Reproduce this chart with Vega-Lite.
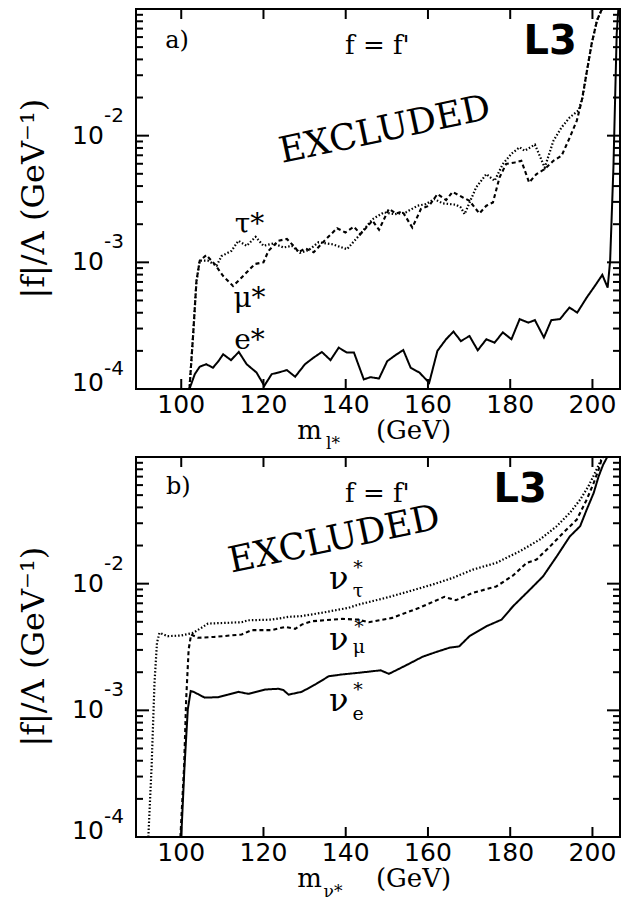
{
 "$schema": "https://vega.github.io/schema/vega-lite/v6.json",
 "padding": {"left": 17, "top": 7, "right": 5, "bottom": 0},
 "background": "white",
 "spacing": 2,
 "config": {
  "view": {"stroke": "black", "strokeWidth": 2},
  "text": {"color": "black"},
  "rule": {"color": "black", "strokeWidth": 2}
 },
 "datasets": {
  "ticks": [
   {"axis":"y","kind":"major","v":0.0001},{"axis":"y","kind":"minor","v":0.0002},{"axis":"y","kind":"minor","v":0.0003},{"axis":"y","kind":"minor","v":0.0004},{"axis":"y","kind":"minor","v":0.0005},{"axis":"y","kind":"minor","v":0.0006},{"axis":"y","kind":"minor","v":0.0007},{"axis":"y","kind":"minor","v":0.0008},{"axis":"y","kind":"minor","v":0.0009},
   {"axis":"y","kind":"major","v":0.001},{"axis":"y","kind":"minor","v":0.002},{"axis":"y","kind":"minor","v":0.003},{"axis":"y","kind":"minor","v":0.004},{"axis":"y","kind":"minor","v":0.005},{"axis":"y","kind":"minor","v":0.006},{"axis":"y","kind":"minor","v":0.007},{"axis":"y","kind":"minor","v":0.008},{"axis":"y","kind":"minor","v":0.009},
   {"axis":"y","kind":"major","v":0.01},{"axis":"y","kind":"minor","v":0.02},{"axis":"y","kind":"minor","v":0.03},{"axis":"y","kind":"minor","v":0.04},{"axis":"y","kind":"minor","v":0.05},{"axis":"y","kind":"minor","v":0.06},{"axis":"y","kind":"minor","v":0.07},{"axis":"y","kind":"minor","v":0.08},{"axis":"y","kind":"minor","v":0.09},
   {"axis":"x","kind":"major","v":100},{"axis":"x","kind":"major","v":120},{"axis":"x","kind":"major","v":140},{"axis":"x","kind":"major","v":160},{"axis":"x","kind":"major","v":180},{"axis":"x","kind":"major","v":200}
  ],
  "frame": [
   {"kind":"ylab","x":81.2,"y":0.0001125,"text":"10"},
   {"kind":"ylab","x":81.2,"y":0.001,"text":"10"},
   {"kind":"ylab","x":81.2,"y":0.01,"text":"10"},
   {"kind":"exp","x":81.2,"y":0.0001,"text":"-4"},
   {"kind":"exp","x":81.2,"y":0.001,"text":"-3"},
   {"kind":"exp","x":81.2,"y":0.01,"text":"-2"},
   {"kind":"xlab","x":100,"y":0.0000747,"text":"100"},
   {"kind":"xlab","x":120,"y":0.0000747,"text":"120"},
   {"kind":"xlab","x":140,"y":0.0000747,"text":"140"},
   {"kind":"xlab","x":160,"y":0.0000747,"text":"160"},
   {"kind":"xlab","x":180,"y":0.0000747,"text":"180"},
   {"kind":"xlab","x":200,"y":0.0000747,"text":"200"},
   {"kind":"ytitle","x":64.2,"y":0.00318,"text":"|f|/Λ  (GeV⁻¹)"}
  ],
  "curves": [
   {"panel":"a","lepton":"e","m":102.0,"f":0.0001},
   {"panel":"a","lepton":"e","m":103.3,"f":0.000131},
   {"panel":"a","lepton":"e","m":104.5,"f":0.00015},
   {"panel":"a","lepton":"e","m":106.1,"f":0.000157},
   {"panel":"a","lepton":"e","m":107.7,"f":0.000147},
   {"panel":"a","lepton":"e","m":109.0,"f":0.000165},
   {"panel":"a","lepton":"e","m":110.2,"f":0.000188},
   {"panel":"a","lepton":"e","m":112.1,"f":0.000169},
   {"panel":"a","lepton":"e","m":114.0,"f":0.000196},
   {"panel":"a","lepton":"e","m":115.9,"f":0.000157},
   {"panel":"a","lepton":"e","m":118.3,"f":0.000135},
   {"panel":"a","lepton":"e","m":120.2,"f":0.000106},
   {"panel":"a","lepton":"e","m":122.0,"f":0.000131},
   {"panel":"a","lepton":"e","m":124.0,"f":0.000136},
   {"panel":"a","lepton":"e","m":125.7,"f":0.000141},
   {"panel":"a","lepton":"e","m":127.7,"f":0.000125},
   {"panel":"a","lepton":"e","m":130.1,"f":0.000157},
   {"panel":"a","lepton":"e","m":132.2,"f":0.000177},
   {"panel":"a","lepton":"e","m":134.2,"f":0.000196},
   {"panel":"a","lepton":"e","m":136.3,"f":0.000169},
   {"panel":"a","lepton":"e","m":138.3,"f":0.000212},
   {"panel":"a","lepton":"e","m":140.3,"f":0.000194},
   {"panel":"a","lepton":"e","m":142.0,"f":0.000194},
   {"panel":"a","lepton":"e","m":144.4,"f":0.000119},
   {"panel":"a","lepton":"e","m":146.0,"f":0.000124},
   {"panel":"a","lepton":"e","m":148.1,"f":0.000121},
   {"panel":"a","lepton":"e","m":150.1,"f":0.000166},
   {"panel":"a","lepton":"e","m":152.2,"f":0.000186},
   {"panel":"a","lepton":"e","m":154.0,"f":0.000203},
   {"panel":"a","lepton":"e","m":155.8,"f":0.000147},
   {"panel":"a","lepton":"e","m":157.9,"f":0.000135},
   {"panel":"a","lepton":"e","m":160.3,"f":0.000112},
   {"panel":"a","lepton":"e","m":162.3,"f":0.0002},
   {"panel":"a","lepton":"e","m":164.4,"f":0.000247},
   {"panel":"a","lepton":"e","m":166.2,"f":0.000284},
   {"panel":"a","lepton":"e","m":168.0,"f":0.000239},
   {"panel":"a","lepton":"e","m":170.1,"f":0.000262},
   {"panel":"a","lepton":"e","m":172.1,"f":0.000202},
   {"panel":"a","lepton":"e","m":174.2,"f":0.000247},
   {"panel":"a","lepton":"e","m":176.2,"f":0.000232},
   {"panel":"a","lepton":"e","m":178.2,"f":0.00028},
   {"panel":"a","lepton":"e","m":180.3,"f":0.000247},
   {"panel":"a","lepton":"e","m":182.3,"f":0.000356},
   {"panel":"a","lepton":"e","m":184.4,"f":0.000334},
   {"panel":"a","lepton":"e","m":186.0,"f":0.00035},
   {"panel":"a","lepton":"e","m":188.2,"f":0.000255},
   {"panel":"a","lepton":"e","m":190.0,"f":0.00035},
   {"panel":"a","lepton":"e","m":192.1,"f":0.000356},
   {"panel":"a","lepton":"e","m":194.4,"f":0.00044},
   {"panel":"a","lepton":"e","m":196.3,"f":0.000401},
   {"panel":"a","lepton":"e","m":198.6,"f":0.000527},
   {"panel":"a","lepton":"e","m":200.6,"f":0.000652},
   {"panel":"a","lepton":"e","m":202.4,"f":0.000796},
   {"panel":"a","lepton":"e","m":203.7,"f":0.000632},
   {"panel":"a","lepton":"e","m":204.3,"f":0.00103},
   {"panel":"a","lepton":"e","m":205.1,"f":0.0056},
   {"panel":"a","lepton":"e","m":205.9,"f":0.0637},
   {"panel":"a","lepton":"e","m":206.3,"f":0.1},

   {"panel":"a","lepton":"μ","m":102.0,"f":0.0001},
   {"panel":"a","lepton":"μ","m":102.9,"f":0.00027},
   {"panel":"a","lepton":"μ","m":103.7,"f":0.00071},
   {"panel":"a","lepton":"μ","m":104.5,"f":0.00103},
   {"panel":"a","lepton":"μ","m":106.1,"f":0.00114},
   {"panel":"a","lepton":"μ","m":108.1,"f":0.00097},
   {"panel":"a","lepton":"μ","m":110.2,"f":0.00078},
   {"panel":"a","lepton":"μ","m":112.6,"f":0.00065},
   {"panel":"a","lepton":"μ","m":114.7,"f":0.00076},
   {"panel":"a","lepton":"μ","m":117.9,"f":0.00097},
   {"panel":"a","lepton":"μ","m":120.0,"f":0.001},
   {"panel":"a","lepton":"μ","m":121.2,"f":0.00123},
   {"panel":"a","lepton":"μ","m":123.6,"f":0.00148},
   {"panel":"a","lepton":"μ","m":125.7,"f":0.00153},
   {"panel":"a","lepton":"μ","m":127.7,"f":0.00131},
   {"panel":"a","lepton":"μ","m":128.5,"f":0.0012},
   {"panel":"a","lepton":"μ","m":130.2,"f":0.00129},
   {"panel":"a","lepton":"μ","m":132.2,"f":0.0012},
   {"panel":"a","lepton":"μ","m":135.0,"f":0.0015},
   {"panel":"a","lepton":"μ","m":137.9,"f":0.00186},
   {"panel":"a","lepton":"μ","m":139.9,"f":0.00172},
   {"panel":"a","lepton":"μ","m":142.0,"f":0.00191},
   {"panel":"a","lepton":"μ","m":143.6,"f":0.00167},
   {"panel":"a","lepton":"μ","m":146.5,"f":0.00213},
   {"panel":"a","lepton":"μ","m":148.1,"f":0.00181},
   {"panel":"a","lepton":"μ","m":150.5,"f":0.00264},
   {"panel":"a","lepton":"μ","m":152.2,"f":0.00243},
   {"panel":"a","lepton":"μ","m":153.8,"f":0.00252},
   {"panel":"a","lepton":"μ","m":156.2,"f":0.00188},
   {"panel":"a","lepton":"μ","m":158.3,"f":0.00264},
   {"panel":"a","lepton":"μ","m":160.3,"f":0.0028},
   {"panel":"a","lepton":"μ","m":162.3,"f":0.00346},
   {"panel":"a","lepton":"μ","m":164.4,"f":0.0031},
   {"panel":"a","lepton":"μ","m":166.0,"f":0.0036},
   {"panel":"a","lepton":"μ","m":168.5,"f":0.00325},
   {"panel":"a","lepton":"μ","m":170.1,"f":0.00306},
   {"panel":"a","lepton":"μ","m":172.5,"f":0.00243},
   {"panel":"a","lepton":"μ","m":174.2,"f":0.0028},
   {"panel":"a","lepton":"μ","m":175.8,"f":0.00297},
   {"panel":"a","lepton":"μ","m":177.4,"f":0.00468},
   {"panel":"a","lepton":"μ","m":179.0,"f":0.00597},
   {"panel":"a","lepton":"μ","m":181.1,"f":0.00615},
   {"panel":"a","lepton":"μ","m":182.7,"f":0.00634},
   {"panel":"a","lepton":"μ","m":184.6,"f":0.00427},
   {"panel":"a","lepton":"μ","m":186.4,"f":0.00498},
   {"panel":"a","lepton":"μ","m":188.4,"f":0.00545},
   {"panel":"a","lepton":"μ","m":190.5,"f":0.00634},
   {"panel":"a","lepton":"μ","m":192.5,"f":0.00695},
   {"panel":"a","lepton":"μ","m":194.5,"f":0.0097},
   {"panel":"a","lepton":"μ","m":196.2,"f":0.01315},
   {"panel":"a","lepton":"μ","m":197.4,"f":0.0189},
   {"panel":"a","lepton":"μ","m":198.6,"f":0.0316},
   {"panel":"a","lepton":"μ","m":199.8,"f":0.053},
   {"panel":"a","lepton":"μ","m":201.1,"f":0.081},
   {"panel":"a","lepton":"μ","m":202.3,"f":0.1},

   {"panel":"a","lepton":"τ","m":102.0,"f":0.0001},
   {"panel":"a","lepton":"τ","m":102.9,"f":0.00027},
   {"panel":"a","lepton":"τ","m":103.7,"f":0.00071},
   {"panel":"a","lepton":"τ","m":104.5,"f":0.00103},
   {"panel":"a","lepton":"τ","m":106.5,"f":0.00103},
   {"panel":"a","lepton":"τ","m":108.6,"f":0.00094},
   {"panel":"a","lepton":"τ","m":109.8,"f":0.00112},
   {"panel":"a","lepton":"τ","m":112.2,"f":0.00123},
   {"panel":"a","lepton":"τ","m":113.9,"f":0.00148},
   {"panel":"a","lepton":"τ","m":115.9,"f":0.00135},
   {"panel":"a","lepton":"τ","m":118.1,"f":0.00159},
   {"panel":"a","lepton":"τ","m":120.0,"f":0.00135},
   {"panel":"a","lepton":"τ","m":122.4,"f":0.00141},
   {"panel":"a","lepton":"τ","m":124.9,"f":0.00131},
   {"panel":"a","lepton":"τ","m":126.9,"f":0.00135},
   {"panel":"a","lepton":"τ","m":128.9,"f":0.00119},
   {"panel":"a","lepton":"τ","m":131.0,"f":0.00125},
   {"panel":"a","lepton":"τ","m":133.4,"f":0.00144},
   {"panel":"a","lepton":"τ","m":136.7,"f":0.00139},
   {"panel":"a","lepton":"τ","m":140.3,"f":0.00127},
   {"panel":"a","lepton":"τ","m":143.2,"f":0.00162},
   {"panel":"a","lepton":"τ","m":146.5,"f":0.00219},
   {"panel":"a","lepton":"τ","m":149.3,"f":0.00248},
   {"panel":"a","lepton":"τ","m":152.0,"f":0.0024},
   {"panel":"a","lepton":"τ","m":154.6,"f":0.00248},
   {"panel":"a","lepton":"τ","m":157.5,"f":0.0028},
   {"panel":"a","lepton":"τ","m":159.5,"f":0.00288},
   {"panel":"a","lepton":"τ","m":161.5,"f":0.00316},
   {"panel":"a","lepton":"τ","m":163.6,"f":0.00292},
   {"panel":"a","lepton":"τ","m":166.8,"f":0.00285},
   {"panel":"a","lepton":"τ","m":168.0,"f":0.00271},
   {"panel":"a","lepton":"τ","m":168.9,"f":0.0024},
   {"panel":"a","lepton":"τ","m":171.7,"f":0.0039},
   {"panel":"a","lepton":"τ","m":174.2,"f":0.00498},
   {"panel":"a","lepton":"τ","m":176.2,"f":0.0044},
   {"panel":"a","lepton":"τ","m":178.2,"f":0.00597},
   {"panel":"a","lepton":"τ","m":180.3,"f":0.0072},
   {"panel":"a","lepton":"τ","m":182.3,"f":0.0081},
   {"panel":"a","lepton":"τ","m":183.5,"f":0.0076},
   {"panel":"a","lepton":"τ","m":186.0,"f":0.0085},
   {"panel":"a","lepton":"τ","m":188.4,"f":0.0056},
   {"panel":"a","lepton":"τ","m":190.5,"f":0.0091},
   {"panel":"a","lepton":"τ","m":192.5,"f":0.01164},
   {"panel":"a","lepton":"τ","m":194.5,"f":0.01396},
   {"panel":"a","lepton":"τ","m":196.6,"f":0.0158},
   {"panel":"a","lepton":"τ","m":197.6,"f":0.02},
   {"panel":"a","lepton":"τ","m":198.6,"f":0.0316},
   {"panel":"a","lepton":"τ","m":199.8,"f":0.053},
   {"panel":"a","lepton":"τ","m":201.1,"f":0.081},
   {"panel":"a","lepton":"τ","m":202.3,"f":0.1},

   {"panel":"b","lepton":"τ","m":92.0,"f":0.0001},
   {"panel":"b","lepton":"τ","m":92.8,"f":0.000363},
   {"panel":"b","lepton":"τ","m":93.5,"f":0.00165},
   {"panel":"b","lepton":"τ","m":94.1,"f":0.00341},
   {"panel":"b","lepton":"τ","m":94.7,"f":0.00409},
   {"panel":"b","lepton":"τ","m":96.7,"f":0.00385},
   {"panel":"b","lepton":"τ","m":100.0,"f":0.0039},
   {"panel":"b","lepton":"τ","m":102.9,"f":0.00409},
   {"panel":"b","lepton":"τ","m":104.9,"f":0.00448},
   {"panel":"b","lepton":"τ","m":106.5,"f":0.00484},
   {"panel":"b","lepton":"τ","m":110.6,"f":0.0049},
   {"panel":"b","lepton":"τ","m":114.7,"f":0.00496},
   {"panel":"b","lepton":"τ","m":116.3,"f":0.00514},
   {"panel":"b","lepton":"τ","m":122.0,"f":0.0052},
   {"panel":"b","lepton":"τ","m":126.1,"f":0.00547},
   {"panel":"b","lepton":"τ","m":129.3,"f":0.00555},
   {"panel":"b","lepton":"τ","m":134.2,"f":0.00589},
   {"panel":"b","lepton":"τ","m":140.7,"f":0.00645},
   {"panel":"b","lepton":"τ","m":143.2,"f":0.00685},
   {"panel":"b","lepton":"τ","m":149.7,"f":0.00772},
   {"panel":"b","lepton":"τ","m":154.6,"f":0.00855},
   {"panel":"b","lepton":"τ","m":161.1,"f":0.00984},
   {"panel":"b","lepton":"τ","m":166.0,"f":0.0111},
   {"panel":"b","lepton":"τ","m":170.9,"f":0.0129},
   {"panel":"b","lepton":"τ","m":176.6,"f":0.0146},
   {"panel":"b","lepton":"τ","m":182.3,"f":0.018},
   {"panel":"b","lepton":"τ","m":187.2,"f":0.0223},
   {"panel":"b","lepton":"τ","m":191.3,"f":0.0284},
   {"panel":"b","lepton":"τ","m":194.5,"f":0.0362},
   {"panel":"b","lepton":"τ","m":197.0,"f":0.046},
   {"panel":"b","lepton":"τ","m":199.0,"f":0.0586},
   {"panel":"b","lepton":"τ","m":200.6,"f":0.0747},
   {"panel":"b","lepton":"τ","m":201.9,"f":0.092},
   {"panel":"b","lepton":"τ","m":202.5,"f":0.1},

   {"panel":"b","lepton":"μ","m":99.8,"f":0.0001},
   {"panel":"b","lepton":"μ","m":100.7,"f":0.000363},
   {"panel":"b","lepton":"μ","m":101.2,"f":0.00122},
   {"panel":"b","lepton":"μ","m":101.8,"f":0.00302},
   {"panel":"b","lepton":"μ","m":102.4,"f":0.00397},
   {"panel":"b","lepton":"μ","m":104.1,"f":0.00374},
   {"panel":"b","lepton":"μ","m":108.1,"f":0.0038},
   {"panel":"b","lepton":"μ","m":114.7,"f":0.00397},
   {"panel":"b","lepton":"μ","m":117.1,"f":0.0043},
   {"panel":"b","lepton":"μ","m":122.0,"f":0.0043},
   {"panel":"b","lepton":"μ","m":125.3,"f":0.00456},
   {"panel":"b","lepton":"μ","m":127.7,"f":0.0044},
   {"panel":"b","lepton":"μ","m":129.3,"f":0.00475},
   {"panel":"b","lepton":"μ","m":131.8,"f":0.00505},
   {"panel":"b","lepton":"μ","m":139.1,"f":0.00527},
   {"panel":"b","lepton":"μ","m":143.2,"f":0.0052},
   {"panel":"b","lepton":"μ","m":145.6,"f":0.00496},
   {"panel":"b","lepton":"μ","m":151.3,"f":0.00537},
   {"panel":"b","lepton":"μ","m":157.9,"f":0.00645},
   {"panel":"b","lepton":"μ","m":164.0,"f":0.00787},
   {"panel":"b","lepton":"μ","m":166.8,"f":0.0074},
   {"panel":"b","lepton":"μ","m":170.9,"f":0.00846},
   {"panel":"b","lepton":"μ","m":176.6,"f":0.0095},
   {"panel":"b","lepton":"μ","m":180.7,"f":0.0116},
   {"panel":"b","lepton":"μ","m":184.0,"f":0.0146},
   {"panel":"b","lepton":"μ","m":186.4,"f":0.0155},
   {"panel":"b","lepton":"μ","m":189.7,"f":0.0197},
   {"panel":"b","lepton":"μ","m":192.9,"f":0.0252},
   {"panel":"b","lepton":"μ","m":196.2,"f":0.0321},
   {"panel":"b","lepton":"μ","m":198.6,"f":0.046},
   {"panel":"b","lepton":"μ","m":200.3,"f":0.0624},
   {"panel":"b","lepton":"μ","m":201.5,"f":0.0794},
   {"panel":"b","lepton":"μ","m":202.4,"f":0.1},

   {"panel":"b","lepton":"e","m":100.0,"f":0.0001},
   {"panel":"b","lepton":"e","m":100.8,"f":0.000363},
   {"panel":"b","lepton":"e","m":101.6,"f":0.00102},
   {"panel":"b","lepton":"e","m":102.3,"f":0.00142},
   {"panel":"b","lepton":"e","m":103.0,"f":0.0014},
   {"panel":"b","lepton":"e","m":105.7,"f":0.00126},
   {"panel":"b","lepton":"e","m":109.0,"f":0.00127},
   {"panel":"b","lepton":"e","m":111.4,"f":0.00133},
   {"panel":"b","lepton":"e","m":113.9,"f":0.0014},
   {"panel":"b","lepton":"e","m":116.3,"f":0.00135},
   {"panel":"b","lepton":"e","m":120.4,"f":0.00146},
   {"panel":"b","lepton":"e","m":123.6,"f":0.00148},
   {"panel":"b","lepton":"e","m":124.8,"f":0.00145},
   {"panel":"b","lepton":"e","m":126.1,"f":0.00133},
   {"panel":"b","lepton":"e","m":129.3,"f":0.0014},
   {"panel":"b","lepton":"e","m":132.6,"f":0.0016},
   {"panel":"b","lepton":"e","m":135.9,"f":0.00186},
   {"panel":"b","lepton":"e","m":139.1,"f":0.00192},
   {"panel":"b","lepton":"e","m":143.2,"f":0.00198},
   {"panel":"b","lepton":"e","m":148.5,"f":0.00207},
   {"panel":"b","lepton":"e","m":150.5,"f":0.00194},
   {"panel":"b","lepton":"e","m":154.6,"f":0.00226},
   {"panel":"b","lepton":"e","m":158.7,"f":0.00265},
   {"panel":"b","lepton":"e","m":161.9,"f":0.00288},
   {"panel":"b","lepton":"e","m":165.2,"f":0.00312},
   {"panel":"b","lepton":"e","m":167.6,"f":0.0032},
   {"panel":"b","lepton":"e","m":170.1,"f":0.00385},
   {"panel":"b","lepton":"e","m":174.2,"f":0.00461},
   {"panel":"b","lepton":"e","m":177.9,"f":0.0052},
   {"panel":"b","lepton":"e","m":180.7,"f":0.00664},
   {"panel":"b","lepton":"e","m":184.8,"f":0.00898},
   {"panel":"b","lepton":"e","m":188.0,"f":0.01143},
   {"panel":"b","lepton":"e","m":191.3,"f":0.0164},
   {"panel":"b","lepton":"e","m":194.5,"f":0.0236},
   {"panel":"b","lepton":"e","m":197.0,"f":0.0284},
   {"panel":"b","lepton":"e","m":198.6,"f":0.0384},
   {"panel":"b","lepton":"e","m":200.3,"f":0.052},
   {"panel":"b","lepton":"e","m":201.5,"f":0.0703},
   {"panel":"b","lepton":"e","m":202.6,"f":0.0869},
   {"panel":"b","lepton":"e","m":203.6,"f":0.1}
  ],
  "notes": [
   {"panel":"a","kind":"tag","x":99.0,"y":0.0564,"text":"a)"},
   {"panel":"a","kind":"ff","x":147.7,"y":0.0514,"text":"f = f'"},
   {"panel":"a","kind":"l3","x":189.7,"y":0.0553,"text":"L3"},
   {"panel":"a","kind":"excl","x":149.5,"y":0.0111,"text":"EXCLUDED"},
   {"panel":"a","kind":"lep","x":116.6,"y":0.00198,"text":"τ*"},
   {"panel":"a","kind":"lep","x":116.6,"y":0.000514,"text":"μ*"},
   {"panel":"a","kind":"lep","x":116.6,"y":0.000239,"text":"e*"},
   {"panel":"a","kind":"xt","x":131.2,"y":0.0000403,"text":"m"},
   {"panel":"a","kind":"xt","x":156.5,"y":0.0000403,"text":"(GeV)"},
   {"panel":"a","kind":"xts","x":136.9,"y":0.0000336,"text":"l*"},
   {"panel":"b","kind":"tag","x":99.3,"y":0.0583,"text":"b)"},
   {"panel":"b","kind":"ff","x":147.7,"y":0.0514,"text":"f = f'"},
   {"panel":"b","kind":"l3","x":182.4,"y":0.0552,"text":"L3"},
   {"panel":"b","kind":"excl","x":137.2,"y":0.0223,"text":"EXCLUDED"},
   {"panel":"b","kind":"nu","x":138.3,"y":0.01096,"text":"ν"},
   {"panel":"b","kind":"sm","x":143.0,"y":0.01339,"text":"*"},
   {"panel":"b","kind":"sm","x":143.0,"y":0.00883,"text":"τ"},
   {"panel":"b","kind":"nu","x":138.3,"y":0.00356,"text":"ν"},
   {"panel":"b","kind":"sm","x":143.2,"y":0.00459,"text":"*"},
   {"panel":"b","kind":"sm","x":143.2,"y":0.00319,"text":"μ"},
   {"panel":"b","kind":"nu","x":138.3,"y":0.001175,"text":"ν"},
   {"panel":"b","kind":"sm","x":143.0,"y":0.00146,"text":"*"},
   {"panel":"b","kind":"sm","x":143.0,"y":0.000929,"text":"e"},
   {"panel":"b","kind":"xt","x":131.2,"y":0.0000401,"text":"m"},
   {"panel":"b","kind":"xt","x":156.5,"y":0.0000401,"text":"(GeV)"},
   {"panel":"b","kind":"xts","x":136.9,"y":0.0000338,"text":"ν*"}
  ]
 },
 "vconcat": [
  {
   "width": 484, "height": 380,
   "layer": [
    {
     "data": {"name": "curves"},
     "transform": [{"filter": "datum.panel == 'a'"}],
     "mark": {"type": "line", "clip": true, "color": "black"},
     "encoding": {
      "x": {"field": "m", "type": "quantitative", "scale": {"domain": [89, 206.7], "nice": false, "zero": false}, "axis": null},
      "y": {"field": "f", "type": "quantitative", "scale": {"type": "log", "domain": [0.0001, 0.1], "nice": false}, "axis": null},
      "strokeDash": {"field": "lepton", "type": "nominal", "scale": {"domain": ["e","μ","τ"], "range": [[1,0],[4,3],[1.5,2]]}, "legend": null},
      "strokeWidth": {"field": "lepton", "type": "nominal", "scale": {"domain": ["e","μ","τ"], "range": [2,2.2,1.3]}, "legend": null}
     }
    },
    {"data": {"name": "ticks"}, "transform": [{"filter": "datum.axis == 'y' && datum.kind == 'major'"}],
     "mark": {"type": "rule", "x2Offset": 13},
     "encoding": {"y": {"field": "v", "type": "quantitative", "axis": null}, "x": {"datum": 89, "axis": null}, "x2": {"datum": 89}}},
    {"data": {"name": "ticks"}, "transform": [{"filter": "datum.axis == 'y' && datum.kind == 'minor'"}],
     "mark": {"type": "rule", "x2Offset": 7},
     "encoding": {"y": {"field": "v", "type": "quantitative", "axis": null}, "x": {"datum": 89, "axis": null}, "x2": {"datum": 89}}},
    {"data": {"name": "ticks"}, "transform": [{"filter": "datum.axis == 'y' && datum.kind == 'major'"}],
     "mark": {"type": "rule", "x2Offset": -13},
     "encoding": {"y": {"field": "v", "type": "quantitative", "axis": null}, "x": {"datum": 206.7, "axis": null}, "x2": {"datum": 206.7}}},
    {"data": {"name": "ticks"}, "transform": [{"filter": "datum.axis == 'y' && datum.kind == 'minor'"}],
     "mark": {"type": "rule", "x2Offset": -7},
     "encoding": {"y": {"field": "v", "type": "quantitative", "axis": null}, "x": {"datum": 206.7, "axis": null}, "x2": {"datum": 206.7}}},
    {"data": {"name": "ticks"}, "transform": [{"filter": "datum.axis == 'x'"}],
     "mark": {"type": "rule", "y2Offset": -10},
     "encoding": {"x": {"field": "v", "type": "quantitative", "axis": null}, "y": {"datum": 0.0001, "axis": null}, "y2": {"datum": 0.0001}}},
    {"data": {"name": "ticks"}, "transform": [{"filter": "datum.axis == 'x'"}],
     "mark": {"type": "rule", "y2Offset": 10},
     "encoding": {"x": {"field": "v", "type": "quantitative", "axis": null}, "y": {"datum": 0.1, "axis": null}, "y2": {"datum": 0.1}}},
    {"data": {"name": "frame"}, "transform": [{"filter": "datum.kind == 'ylab'"}],
     "mark": {"type": "text", "font": "DejaVu Sans", "fontSize": 25, "align": "right", "baseline": "middle"},
     "encoding": {"x": {"field": "x", "type": "quantitative", "axis": null}, "y": {"field": "y", "type": "quantitative", "axis": null}, "text": {"field": "text"}}},
    {"data": {"name": "frame"}, "transform": [{"filter": "datum.kind == 'exp'"}],
     "mark": {"type": "text", "font": "DejaVu Sans", "fontSize": 20, "align": "left", "baseline": "middle", "dy": -20},
     "encoding": {"x": {"field": "x", "type": "quantitative", "axis": null}, "y": {"field": "y", "type": "quantitative", "axis": null}, "text": {"field": "text"}}},
    {"data": {"name": "frame"}, "transform": [{"filter": "datum.kind == 'xlab'"}],
     "mark": {"type": "text", "font": "DejaVu Sans", "fontSize": 25, "align": "center", "baseline": "middle"},
     "encoding": {"x": {"field": "x", "type": "quantitative", "axis": null}, "y": {"field": "y", "type": "quantitative", "axis": null}, "text": {"field": "text"}}},
    {"data": {"name": "frame"}, "transform": [{"filter": "datum.kind == 'ytitle'"}],
     "mark": {"type": "text", "font": "DejaVu Serif", "fontSize": 32, "align": "center", "baseline": "middle", "angle": 270},
     "encoding": {"x": {"field": "x", "type": "quantitative", "axis": null}, "y": {"field": "y", "type": "quantitative", "axis": null}, "text": {"field": "text"}}},
    {"data": {"name": "notes"}, "transform": [{"filter": "datum.panel == 'a' && datum.kind == 'tag'"}],
     "mark": {"type": "text", "font": "DejaVu Serif", "fontSize": 24, "align": "center", "baseline": "middle"},
     "encoding": {"x": {"field": "x", "type": "quantitative", "axis": null}, "y": {"field": "y", "type": "quantitative", "axis": null}, "text": {"field": "text"}}},
    {"data": {"name": "notes"}, "transform": [{"filter": "datum.panel == 'a' && datum.kind == 'ff'"}],
     "mark": {"type": "text", "font": "DejaVu Serif", "fontSize": 26, "align": "center", "baseline": "middle"},
     "encoding": {"x": {"field": "x", "type": "quantitative", "axis": null}, "y": {"field": "y", "type": "quantitative", "axis": null}, "text": {"field": "text"}}},
    {"data": {"name": "notes"}, "transform": [{"filter": "datum.panel == 'a' && datum.kind == 'l3'"}],
     "mark": {"type": "text", "font": "DejaVu Sans", "fontWeight": "bold", "fontSize": 40, "align": "center", "baseline": "middle"},
     "encoding": {"x": {"field": "x", "type": "quantitative", "axis": null}, "y": {"field": "y", "type": "quantitative", "axis": null}, "text": {"field": "text"}}},
    {"data": {"name": "notes"}, "transform": [{"filter": "datum.panel == 'a' && datum.kind == 'excl'"}],
     "mark": {"type": "text", "font": "DejaVu Serif", "fontSize": 36, "align": "center", "baseline": "middle", "angle": 348},
     "encoding": {"x": {"field": "x", "type": "quantitative", "axis": null}, "y": {"field": "y", "type": "quantitative", "axis": null}, "text": {"field": "text"}}},
    {"data": {"name": "notes"}, "transform": [{"filter": "datum.panel == 'a' && datum.kind == 'lep'"}],
     "mark": {"type": "text", "font": "DejaVu Serif", "fontSize": 28, "align": "center", "baseline": "middle"},
     "encoding": {"x": {"field": "x", "type": "quantitative", "axis": null}, "y": {"field": "y", "type": "quantitative", "axis": null}, "text": {"field": "text"}}},
    {"data": {"name": "notes"}, "transform": [{"filter": "datum.panel == 'a' && datum.kind == 'xt'"}],
     "mark": {"type": "text", "font": "DejaVu Serif", "fontSize": 26, "align": "center", "baseline": "alphabetic"},
     "encoding": {"x": {"field": "x", "type": "quantitative", "axis": null}, "y": {"field": "y", "type": "quantitative", "axis": null}, "text": {"field": "text"}}},
    {"data": {"name": "notes"}, "transform": [{"filter": "datum.panel == 'a' && datum.kind == 'xts'"}],
     "mark": {"type": "text", "font": "DejaVu Serif", "fontSize": 17, "align": "center", "baseline": "alphabetic"},
     "encoding": {"x": {"field": "x", "type": "quantitative", "axis": null}, "y": {"field": "y", "type": "quantitative", "axis": null}, "text": {"field": "text"}}}
   ]
  },
  {
   "width": 484, "height": 380,
   "layer": [
    {
     "data": {"name": "curves"},
     "transform": [{"filter": "datum.panel == 'b'"}],
     "mark": {"type": "line", "clip": true, "color": "black"},
     "encoding": {
      "x": {"field": "m", "type": "quantitative", "scale": {"domain": [89, 206.7], "nice": false, "zero": false}, "axis": null},
      "y": {"field": "f", "type": "quantitative", "scale": {"type": "log", "domain": [0.0001, 0.1], "nice": false}, "axis": null},
      "strokeDash": {"field": "lepton", "type": "nominal", "scale": {"domain": ["e","μ","τ"], "range": [[1,0],[4,3],[1.5,2]]}, "legend": null},
      "strokeWidth": {"field": "lepton", "type": "nominal", "scale": {"domain": ["e","μ","τ"], "range": [2,2.2,1.3]}, "legend": null}
     }
    },
    {"data": {"name": "ticks"}, "transform": [{"filter": "datum.axis == 'y' && datum.kind == 'major'"}],
     "mark": {"type": "rule", "x2Offset": 13},
     "encoding": {"y": {"field": "v", "type": "quantitative", "axis": null}, "x": {"datum": 89, "axis": null}, "x2": {"datum": 89}}},
    {"data": {"name": "ticks"}, "transform": [{"filter": "datum.axis == 'y' && datum.kind == 'minor'"}],
     "mark": {"type": "rule", "x2Offset": 7},
     "encoding": {"y": {"field": "v", "type": "quantitative", "axis": null}, "x": {"datum": 89, "axis": null}, "x2": {"datum": 89}}},
    {"data": {"name": "ticks"}, "transform": [{"filter": "datum.axis == 'y' && datum.kind == 'major'"}],
     "mark": {"type": "rule", "x2Offset": -13},
     "encoding": {"y": {"field": "v", "type": "quantitative", "axis": null}, "x": {"datum": 206.7, "axis": null}, "x2": {"datum": 206.7}}},
    {"data": {"name": "ticks"}, "transform": [{"filter": "datum.axis == 'y' && datum.kind == 'minor'"}],
     "mark": {"type": "rule", "x2Offset": -7},
     "encoding": {"y": {"field": "v", "type": "quantitative", "axis": null}, "x": {"datum": 206.7, "axis": null}, "x2": {"datum": 206.7}}},
    {"data": {"name": "ticks"}, "transform": [{"filter": "datum.axis == 'x'"}],
     "mark": {"type": "rule", "y2Offset": -10},
     "encoding": {"x": {"field": "v", "type": "quantitative", "axis": null}, "y": {"datum": 0.0001, "axis": null}, "y2": {"datum": 0.0001}}},
    {"data": {"name": "ticks"}, "transform": [{"filter": "datum.axis == 'x'"}],
     "mark": {"type": "rule", "y2Offset": 10},
     "encoding": {"x": {"field": "v", "type": "quantitative", "axis": null}, "y": {"datum": 0.1, "axis": null}, "y2": {"datum": 0.1}}},
    {"data": {"name": "frame"}, "transform": [{"filter": "datum.kind == 'ylab'"}],
     "mark": {"type": "text", "font": "DejaVu Sans", "fontSize": 25, "align": "right", "baseline": "middle"},
     "encoding": {"x": {"field": "x", "type": "quantitative", "axis": null}, "y": {"field": "y", "type": "quantitative", "axis": null}, "text": {"field": "text"}}},
    {"data": {"name": "frame"}, "transform": [{"filter": "datum.kind == 'exp'"}],
     "mark": {"type": "text", "font": "DejaVu Sans", "fontSize": 20, "align": "left", "baseline": "middle", "dy": -20},
     "encoding": {"x": {"field": "x", "type": "quantitative", "axis": null}, "y": {"field": "y", "type": "quantitative", "axis": null}, "text": {"field": "text"}}},
    {"data": {"name": "frame"}, "transform": [{"filter": "datum.kind == 'xlab'"}],
     "mark": {"type": "text", "font": "DejaVu Sans", "fontSize": 25, "align": "center", "baseline": "middle"},
     "encoding": {"x": {"field": "x", "type": "quantitative", "axis": null}, "y": {"field": "y", "type": "quantitative", "axis": null}, "text": {"field": "text"}}},
    {"data": {"name": "frame"}, "transform": [{"filter": "datum.kind == 'ytitle'"}],
     "mark": {"type": "text", "font": "DejaVu Serif", "fontSize": 32, "align": "center", "baseline": "middle", "angle": 270},
     "encoding": {"x": {"field": "x", "type": "quantitative", "axis": null}, "y": {"field": "y", "type": "quantitative", "axis": null}, "text": {"field": "text"}}},
    {"data": {"name": "notes"}, "transform": [{"filter": "datum.panel == 'b' && datum.kind == 'tag'"}],
     "mark": {"type": "text", "font": "DejaVu Serif", "fontSize": 24, "align": "center", "baseline": "middle"},
     "encoding": {"x": {"field": "x", "type": "quantitative", "axis": null}, "y": {"field": "y", "type": "quantitative", "axis": null}, "text": {"field": "text"}}},
    {"data": {"name": "notes"}, "transform": [{"filter": "datum.panel == 'b' && datum.kind == 'ff'"}],
     "mark": {"type": "text", "font": "DejaVu Serif", "fontSize": 26, "align": "center", "baseline": "middle"},
     "encoding": {"x": {"field": "x", "type": "quantitative", "axis": null}, "y": {"field": "y", "type": "quantitative", "axis": null}, "text": {"field": "text"}}},
    {"data": {"name": "notes"}, "transform": [{"filter": "datum.panel == 'b' && datum.kind == 'l3'"}],
     "mark": {"type": "text", "font": "DejaVu Sans", "fontWeight": "bold", "fontSize": 40, "align": "center", "baseline": "middle"},
     "encoding": {"x": {"field": "x", "type": "quantitative", "axis": null}, "y": {"field": "y", "type": "quantitative", "axis": null}, "text": {"field": "text"}}},
    {"data": {"name": "notes"}, "transform": [{"filter": "datum.panel == 'b' && datum.kind == 'excl'"}],
     "mark": {"type": "text", "font": "DejaVu Serif", "fontSize": 36, "align": "center", "baseline": "middle", "angle": 348},
     "encoding": {"x": {"field": "x", "type": "quantitative", "axis": null}, "y": {"field": "y", "type": "quantitative", "axis": null}, "text": {"field": "text"}}},
    {"data": {"name": "notes"}, "transform": [{"filter": "datum.panel == 'b' && datum.kind == 'nu'"}],
     "mark": {"type": "text", "font": "DejaVu Serif", "fontSize": 32, "align": "center", "baseline": "middle"},
     "encoding": {"x": {"field": "x", "type": "quantitative", "axis": null}, "y": {"field": "y", "type": "quantitative", "axis": null}, "text": {"field": "text"}}},
    {"data": {"name": "notes"}, "transform": [{"filter": "datum.panel == 'b' && datum.kind == 'sm'"}],
     "mark": {"type": "text", "font": "DejaVu Serif", "fontSize": 19, "align": "center", "baseline": "middle"},
     "encoding": {"x": {"field": "x", "type": "quantitative", "axis": null}, "y": {"field": "y", "type": "quantitative", "axis": null}, "text": {"field": "text"}}},
    {"data": {"name": "notes"}, "transform": [{"filter": "datum.panel == 'b' && datum.kind == 'xt'"}],
     "mark": {"type": "text", "font": "DejaVu Serif", "fontSize": 26, "align": "center", "baseline": "alphabetic"},
     "encoding": {"x": {"field": "x", "type": "quantitative", "axis": null}, "y": {"field": "y", "type": "quantitative", "axis": null}, "text": {"field": "text"}}},
    {"data": {"name": "notes"}, "transform": [{"filter": "datum.panel == 'b' && datum.kind == 'xts'"}],
     "mark": {"type": "text", "font": "DejaVu Serif", "fontSize": 17, "align": "center", "baseline": "alphabetic"},
     "encoding": {"x": {"field": "x", "type": "quantitative", "axis": null}, "y": {"field": "y", "type": "quantitative", "axis": null}, "text": {"field": "text"}}}
   ]
  }
 ]
}
